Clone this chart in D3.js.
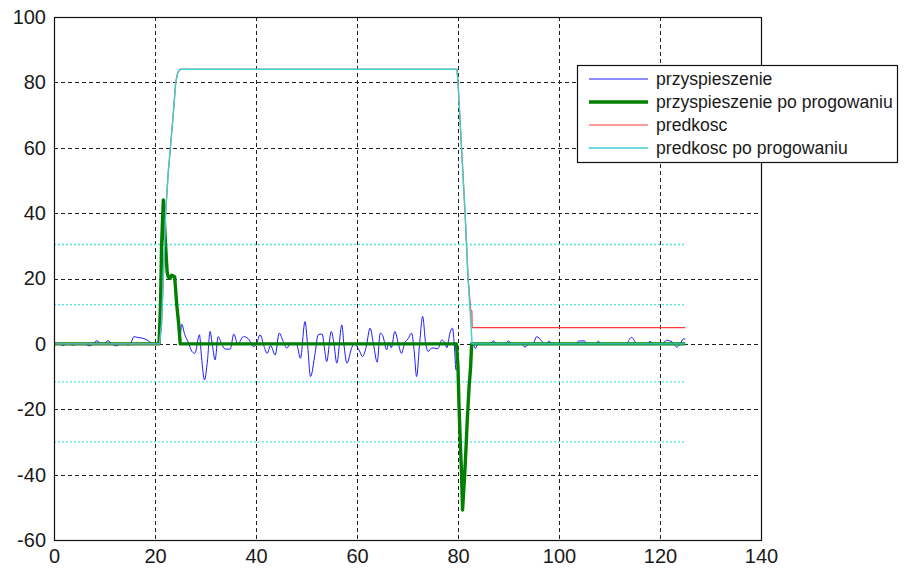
<!DOCTYPE html>
<html>
<head>
<meta charset="utf-8">
<script src="https://cdn.jsdelivr.net/npm/d3@7"></script>
<style>
  body { margin: 0; background: #ffffff; }
  text { font-family: "Liberation Sans", Arial, sans-serif; fill: #1a1a1a; }
</style>
</head>
<body>
<svg id="chart" width="904" height="571"></svg>
<script>
// Tick values
const xTicks = [0, 20, 40, 60, 80, 100, 120, 140];
const yTicks = [-60, -40, -20, 0, 20, 40, 60, 80, 100];

// Raw acceleration (przyspieszenie)
const accelT = [0, 1, 1.8, 2.5, 3.8, 4.5, 6, 7, 7.8, 8.5, 9.3, 10, 10.7, 11.4, 12.4, 13.2, 14, 14.7, 15.3, 15.8, 16.5, 17.3, 18, 18.8, 19.5, 20.3, 20.8,
  21.1, 21.3, 21.65, 21.9, 22.1, 22.4, 22.6, 23.0, 23.3, 23.9, 24.3, 24.7, 25.0, 25.3, 25.9, 26.6, 27.3, 27.9, 28.8, 29.2, 29.8, 30.4, 30.9, 31.4, 31.9,
  32.5, 33.2, 33.9, 34.9, 35.6, 36.4, 37.5, 38.4, 39.5, 40.1, 40.8, 41.6, 42.2, 42.9, 43.8, 44.6, 45.4, 46.1, 46.8, 48.0, 48.8, 49.7, 50.2, 50.8,
  51.7, 52.3, 53.1, 53.6, 54.0, 54.9, 55.4, 56.0, 57.0, 57.4, 58.0, 59.0, 59.5, 60.5, 61.1, 61.8, 62.6, 63.3, 64.0, 64.6, 65.1, 65.9, 66.3, 66.8,
  67.5, 68.2, 68.8, 69.5, 70.1, 70.8, 71.3, 71.8, 72.4, 73.0, 73.6, 74.1, 74.8, 75.3, 76.0, 76.8, 77.4, 77.8, 78.4, 78.9, 79.3, 79.6,
  80.0, 80.2, 80.5, 80.7, 80.9, 81.3, 81.6, 81.8, 82.2, 82.5, 82.7, 83.0, 83.4, 84.0, 86.3, 87.0, 87.7, 89.3, 90.0, 90.7, 92.5, 93.3, 94.0,
  94.8, 95.6, 96.5, 97.0, 97.6, 98.0, 98.6, 103.2, 104.0, 105.0, 105.6, 107.2, 107.8, 108.4, 113.2, 114.4, 115.4, 117.5, 118.0, 118.6,
  120.4, 121.3, 122.4, 122.8, 123.3, 124.0, 124.6, 125.0];
const accelV = [0, 0, -0.5, 0, -0.4, 0, 0, -0.6, 0, 1.0, 0, 0.2, 1.0, 0, -0.6, 0, 0, -0.4, 0.5, 2.2, 2.0, 1.8, 1.5, 0.8, 0, 0, 0.5,
  12, 30, 44, 36, 30, 22, 20.5, 20, 21, 20.5, 12, 6, 3, 6, 2.8, 0.5, -2.3, -2.9, 2.8, -3.9, -11, -4.9, 3.8, -0.8, -4.9,
  2.2, 0, -1.6, -1.6, 3, 0, 2.2, 1.7, -0.8, 0, 2.8, -0.8, -2.9, -0.5, -3.4, 3.3, 0.7, -1.3, 0, 0, -4.4, 6.8, 0, -10,
  -2.9, 2.8, 3, -1.9, -5.4, 3.8, 0.5, -5.9, 5.8, 0, -5.9, -1, 0, -2.2, -3.9, -1, 4.8, -0.5, -5.6, 3.3, 2.5, -1.8, 0.5, -1.2,
  3.8, 0, -2.9, 0.5, 1.5, 3.3, -1.8, -10, 0, 8.4, 0, -2.3, -1.3, -1.3, -1.5, 1.2, 0.2, -1.2, 3.3, 4.8, -1, -8,
  -7, -19, -32, -39.5, -50.8, -40.6, -31.4, -24.3, -13, -7, -2, 0, -1.4, 0, 0, 0.9, 0, 0, 0.9, 0, 0, -1.0, 0,
  0, 2.2, 1, 0, 0, 0.9, 0, 0, 0.9, 0.9, 0, 0, 0.8, 0, 0, 2.0, 0, 0, 0.8, 0,
  0, 1.1, 0.6, -0.2, -1, 0, 1.5, 1.5];

// Thresholded acceleration (przyspieszenie po progowaniu)
const accelThrT = [0, 20.8, 21.1, 21.3, 21.65, 21.9, 22.1, 22.4, 22.6, 23.0, 23.3, 23.9, 24.3, 24.7, 25.0,
  79.7, 80.0, 80.2, 80.5, 80.7, 80.9, 81.3, 81.6, 81.8, 82.2, 82.5, 82.7, 125];
const accelThrV = [0, 0, 12, 30, 44, 36, 30, 22, 20.5, 20, 21, 20.5, 12, 6, 0,
  0, -7, -19, -32, -39.5, -50.8, -40.6, -31.4, -24.3, -13, -7, 0, 0];

// Velocity (predkosc)
const velT = [0, 20.9, 21.3, 21.65, 22.1, 22.6, 23.1, 23.6, 24.1, 24.5, 25.0, 79.8, 80.0, 80.35, 80.7, 81.05, 81.4, 81.7, 82.0, 82.2, 82.5, 82.75, 82.8, 125];
const velV = [0, 0, 6, 20, 40, 52, 61, 70, 80, 83, 84, 84, 80, 70, 60, 50, 40, 30, 20, 16.5, 10.4, 10, 5, 5];

// Thresholded velocity (predkosc po progowaniu)
const velThrT = [0, 20.9, 21.3, 21.65, 22.1, 22.6, 23.1, 23.6, 24.1, 24.5, 25.0, 79.8, 80.0, 80.35, 80.7, 81.05, 81.4, 81.7, 82.0, 82.4, 82.8, 125];
const velThrV = [0, 0, 6, 20, 40, 52, 61, 70, 80, 83, 84, 84, 80, 70, 60, 50, 40, 30, 20, 10, 0, 0];

// Threshold levels (dotted guides)
const thresholdLevels = [30.4, 12.0, -11.6, -30.0];
const thresholdSpan = [0, 125];

const legendLabels = ["przyspieszenie", "przyspieszenie po progowaniu", "predkosc", "predkosc po progowaniu"];

const svg = d3.select("#chart");
const W = 904, H = 571;
const plotLeft = 54, plotRight = 761, plotTop = 17, plotBottom = 540;

svg.append("rect").attr("width", W).attr("height", H).attr("fill", "#ffffff");

const x = d3.scaleLinear().domain([0, 140]).range([plotLeft, plotRight]);
const y = d3.scaleLinear().domain([-60, 100]).range([plotBottom, plotTop]);

// Grid
const grid = svg.append("g");
grid.selectAll(".gx").data(xTicks).enter().append("line")
  .attr("x1", d => Math.round(x(d)) + 0.5).attr("x2", d => Math.round(x(d)) + 0.5)
  .attr("y1", plotTop).attr("y2", plotBottom)
  .attr("stroke", "#222").attr("stroke-width", 1).attr("stroke-dasharray", "4,3");
grid.selectAll(".gy").data(yTicks).enter().append("line")
  .attr("y1", d => Math.round(y(d)) + 0.5).attr("y2", d => Math.round(y(d)) + 0.5)
  .attr("x1", plotLeft).attr("x2", plotRight)
  .attr("stroke", "#222").attr("stroke-width", 1).attr("stroke-dasharray", "4,3");

// Axis labels (plain hyphen for negatives)
const plainNum = d => String(d);
const xAxis = svg.append("g").attr("transform", `translate(0,${plotBottom})`)
  .call(d3.axisBottom(x).tickValues(xTicks).tickSize(0).tickPadding(9).tickFormat(plainNum));
const yAxis = svg.append("g").attr("transform", `translate(${plotLeft},0)`)
  .call(d3.axisLeft(y).tickValues(yTicks).tickSize(0).tickPadding(8).tickFormat(plainNum));
[xAxis, yAxis].forEach(a => {
  a.select(".domain").remove();
  a.selectAll("text").attr("font-size", 20).attr("fill", "#1a1a1a")
    .attr("font-family", "'Liberation Sans', Arial, sans-serif");
});

// Threshold guides
svg.append("g").selectAll("line").data(thresholdLevels).enter().append("line")
  .attr("x1", x(thresholdSpan[0])).attr("x2", x(thresholdSpan[1]))
  .attr("y1", d => y(d)).attr("y2", d => y(d))
  .attr("stroke", "#4fe3e3").attr("stroke-width", 1.3).attr("stroke-dasharray", "2,2");

const zip = (t, v) => t.map((ti, i) => [ti, v[i]]);

const series = [
  { t: accelT, v: accelV, color: "#1a1aff", width: 1, curve: d3.curveMonotoneX },
  { t: accelThrT, v: accelThrV, color: "#008000", width: 3.4, curve: d3.curveLinear },
  { t: velT, v: velV, color: "#ff3b3b", width: 1.2, curve: d3.curveLinear },
  { t: velThrT, v: velThrV, color: "#3ccfcf", width: 1.4, curve: d3.curveLinear }
];

svg.append("g").selectAll("path").data(series).enter().append("path")
  .attr("d", d => d3.line().curve(d.curve).x(p => x(p[0])).y(p => y(p[1]))(zip(d.t, d.v)))
  .attr("fill", "none")
  .attr("stroke", d => d.color)
  .attr("stroke-width", d => d.width)
  .attr("stroke-linejoin", "round");

// Axes box
svg.append("rect").attr("x", plotLeft + 0.5).attr("y", plotTop + 0.5)
  .attr("width", plotRight - plotLeft).attr("height", plotBottom - plotTop)
  .attr("fill", "none").attr("stroke", "#111").attr("stroke-width", 1.2);

// Legend
const lg = svg.append("g");
lg.append("rect").attr("x", 577.5).attr("y", 65.5).attr("width", 320).attr("height", 97)
  .attr("fill", "#ffffff").attr("stroke", "#111").attr("stroke-width", 1.2);
const legendY = [79, 102, 125, 148];
legendLabels.forEach((lab, i) => {
  lg.append("line").attr("x1", 589).attr("x2", 648)
    .attr("y1", legendY[i]).attr("y2", legendY[i])
    .attr("stroke", series[i].color).attr("stroke-width", series[i].width);
  lg.append("text").attr("x", 656).attr("y", legendY[i]).attr("dy", "0.35em")
    .attr("font-size", 17.6).text(lab);
});
</script>
</body>
</html>
